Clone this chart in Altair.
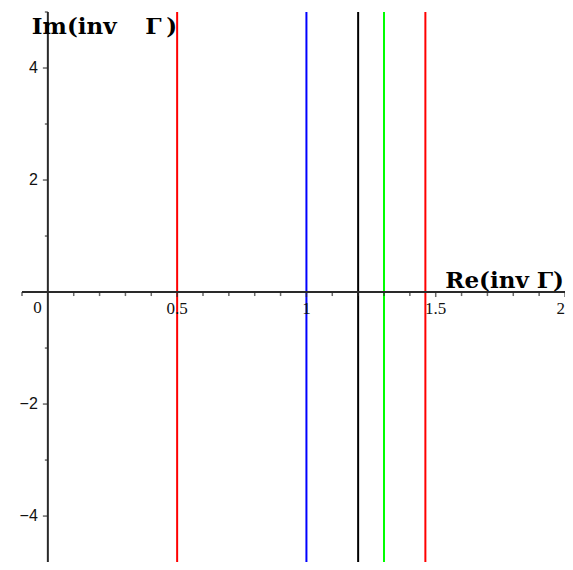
import altair as alt
import pandas as pd

# ---- data ----
line_x = [0.5, 1.0, 1.2, 1.3, 1.46]
line_colors = ["#ff0000", "#0000ff", "#000000", "#00ff00", "#ff0000"]

x_major = [0.5, 1.0, 1.5, 2.0]
x_major_labels = ["0.5", "1", "1.5", "2"]
x_minor = [-0.1, 0.1, 0.2, 0.3, 0.4, 0.6, 0.7, 0.8, 0.9,
           1.1, 1.2, 1.3, 1.4, 1.6, 1.7, 1.8, 1.9]
y_major = [-4, -2, 2, 4]
y_major_labels = ["\u22124", "\u22122", "2", "4"]
y_minor = [-3, -1, 1, 3, 5]

x_domain = [-0.1, 2.0]
y_domain = [-4.82, 5.0]

x_title = "Re(inv \u0393)"
y_title = "Im(inv\u00a0\u00a0\u00a0\u2009\u0393\u2009)"

# ---- tables ----
lines_df = pd.DataFrame({"x": line_x, "y": [y_domain[0]] * len(line_x),
                         "y2": [y_domain[1]] * len(line_x),
                         "k": list(range(len(line_x)))})
axes_df = pd.DataFrame({"x": [x_domain[0], 0.0], "x2": [x_domain[1], 0.0],
                        "y": [0.0, y_domain[0]], "y2": [0.0, y_domain[1]]})
xmaj_df = pd.DataFrame({"x": x_major, "y": [0.0] * len(x_major), "t": x_major_labels})
xmin_df = pd.DataFrame({"x": x_minor, "y": [0.0] * len(x_minor)})
ymaj_df = pd.DataFrame({"x": [0.0] * len(y_major), "y": y_major, "t": y_major_labels})
ymin_df = pd.DataFrame({"x": [0.0] * len(y_minor), "y": y_minor})
zero_df = pd.DataFrame({"x": [0.0], "y": [0.0], "t": ["0"]})
xt_df = pd.DataFrame({"x": [x_domain[1]], "y": [0.0], "t": [x_title]})
yt_df = pd.DataFrame({"x": [0.0], "y": [y_domain[1]], "t": [y_title]})

X = alt.X("x:Q", scale=alt.Scale(domain=x_domain, nice=False, zero=False), axis=None)
Y = alt.Y("y:Q", scale=alt.Scale(domain=y_domain, nice=False, zero=False), axis=None)

AX = "#2a2a2a"

vlines = alt.Chart(lines_df).mark_rule(strokeWidth=2, clip=True).encode(
    x=X, y=Y, y2="y2:Q",
    color=alt.Color("k:N", scale=alt.Scale(domain=list(range(len(line_x))),
                                           range=line_colors), legend=None))

axes = alt.Chart(axes_df).mark_rule(strokeWidth=2, color=AX).encode(
    x=X, x2="x2:Q", y=Y, y2="y2:Q")

xmaj_ticks = alt.Chart(xmaj_df).mark_tick(orient="vertical", size=5, thickness=1.5,
                                          yOffset=2.5, color=AX).encode(x=X, y=Y)
xmin_ticks = alt.Chart(xmin_df).mark_tick(orient="vertical", size=4, thickness=1.5,
                                          yOffset=2, color=AX).encode(x=X, y=Y)
ymaj_ticks = alt.Chart(ymaj_df).mark_tick(orient="horizontal", size=5, thickness=1.5,
                                          xOffset=-2.5, color=AX).encode(x=X, y=Y)
ymin_ticks = alt.Chart(ymin_df).mark_tick(orient="horizontal", size=3, thickness=1.5,
                                          xOffset=-1.5, color=AX).encode(x=X, y=Y)

xlabels = alt.Chart(xmaj_df).transform_filter(alt.datum.x < x_domain[1]).mark_text(
    font="Liberation Serif", fontSize=17, align="center",
    baseline="middle", dy=17, color="#111").encode(x=X, y=Y, text="t:N")
xlabel_last = alt.Chart(xmaj_df).transform_filter(alt.datum.x >= x_domain[1]).mark_text(
    font="Liberation Serif", fontSize=17, align="right",
    baseline="middle", dy=17, dx=0, color="#111").encode(x=X, y=Y, text="t:N")
zlabel = alt.Chart(zero_df).mark_text(font="Liberation Serif", fontSize=17, align="right",
                                      baseline="middle", dx=-6, dy=16, color="#111").encode(
    x=X, y=Y, text="t:N")
ylabels = alt.Chart(ymaj_df).mark_text(font="Liberation Sans", fontSize=16, align="right",
                                       baseline="middle", dx=-10, color="#111").encode(
    x=X, y=Y, text="t:N")

xtitle = alt.Chart(xt_df).mark_text(font="DejaVu Serif", fontSize=23, fontWeight="bold",
                                    align="right", baseline="alphabetic", dx=-1, dy=-4,
                                    color="#000").encode(x=X, y=Y, text="t:N")
ytitle = alt.Chart(yt_df).mark_text(font="DejaVu Serif", fontSize=23, fontWeight="bold",
                                    align="left", baseline="alphabetic", dx=-16, dy=22,
                                    color="#000").encode(x=X, y=Y, text="t:N")

chart = alt.layer(vlines, axes, xmin_ticks, xmaj_ticks, ymin_ticks, ymaj_ticks,
                  xlabels, xlabel_last, zlabel, ylabels, xtitle, ytitle).properties(
    width=543, height=550, autosize="none",
    padding={"left": 14, "top": 4, "right": 0, "bottom": 0},
    background="white"
).configure_view(stroke=None)

chart.save("out.html", embed_options={"renderer": "svg", "actions": False})
